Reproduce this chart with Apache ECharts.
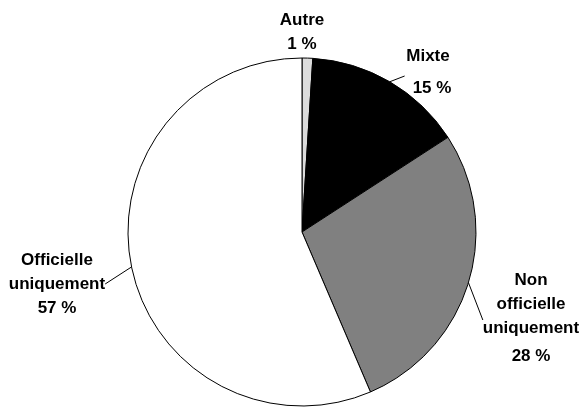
<!DOCTYPE html>
<html>
<head>
<meta charset="utf-8">
<script src="https://cdn.jsdelivr.net/npm/echarts@6/dist/echarts.min.js"></script>
<style>
  html, body { margin: 0; padding: 0; background: #fff; }
  #chart { width: 582px; height: 408px; }
</style>
</head>
<body>
<div id="chart"></div>
<script>
// slices, clockwise from 12 o'clock
const names = ['Autre', 'Mixte', 'Non\nofficielle\nuniquement', 'Officielle\nuniquement'];
const values = [1, 15, 28, 57];
const colors = ['#dcdcdc', '#000000', '#808080', '#ffffff'];

// where each label block sits (x, y of its top centre)
const labelSpots = [[302, 8], [428, 44], [531, 268], [57, 248]];
// rich style used for the "xx %" line of each label
const valueStyles = ['v', 'vMix', 'vNon', 'v'];

const font = "'Liberation Sans Narrow', 'Arial Narrow', 'Liberation Sans', Arial, sans-serif";

const chart = echarts.init(document.getElementById('chart'), null, { renderer: 'canvas' });

const base = { fontFamily: font, fontWeight: 'bold', fontSize: 17, color: '#000' };

const option = {
  animation: false,
  series: [{
    type: 'pie',
    center: [302, 232],
    radius: 174,
    startAngle: 90,
    clockwise: true,
    avoidLabelOverlap: false,
    itemStyle: { borderColor: '#000', borderWidth: 1 },
    label: {
      show: true,
      position: 'outside',
      fontFamily: font,
      fontWeight: 'bold',
      fontSize: 17,
      lineHeight: 24,
      color: '#000',
      align: 'center',
      formatter: p => p.name.split('\n').map(s => '{n|' + s + '}').join('\n') +
        '\n{' + valueStyles[p.dataIndex] + '|' + p.value + ' %}',
      rich: {
        n: Object.assign({ lineHeight: 24 }, base),
        v: Object.assign({ lineHeight: 24 }, base),
        vMix: Object.assign({ lineHeight: 40, padding: [0, 0, 0, 8] }, base),
        vNon: Object.assign({ lineHeight: 32 }, base)
      }
    },
    labelLine: {
      show: true,
      length: 15,
      length2: 0,
      lineStyle: { color: '#000', width: 1 }
    },
    labelLayout: function (params) {
      const s = labelSpots[params.dataIndex];
      return { x: s[0], y: s[1], align: 'center', verticalAlign: 'top' };
    },
    data: names.map((n, i) => ({
      name: n,
      value: values[i],
      itemStyle: { color: colors[i] },
      labelLine: { show: i !== 0 }
    }))
  }]
};
chart.setOption(option);
</script>
</body>
</html>
